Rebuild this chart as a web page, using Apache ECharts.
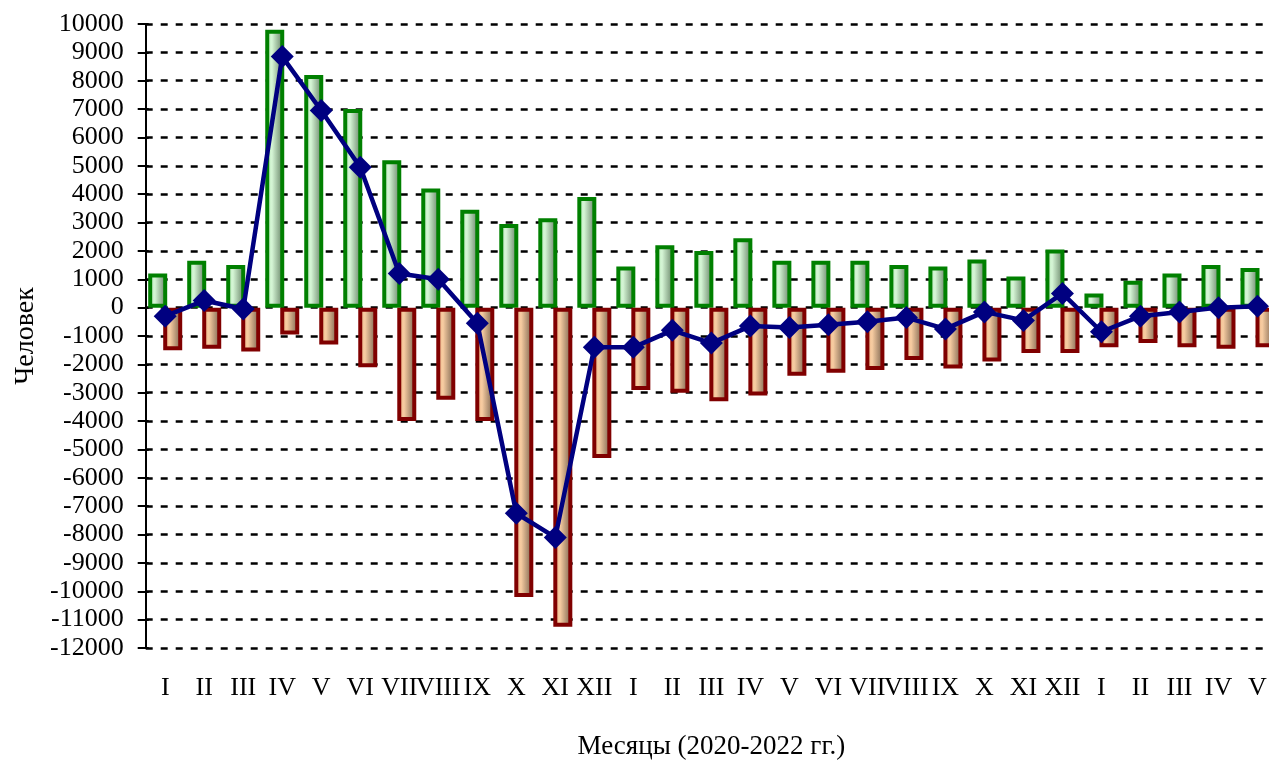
<!DOCTYPE html>
<html>
<head>
<meta charset="utf-8">
<script src="https://cdn.jsdelivr.net/npm/echarts@6/dist/echarts.min.js"></script>
<style>
html,body{margin:0;padding:0;background:#fff;}
#chart{width:1269px;height:760px;}
</style>
</head>
<body>
<div id="chart"></div>
<script>
const categories = ['I','II','III','IV','V','VI','VII','VIII','IX','X','XI','XII',
                    'I','II','III','IV','V','VI','VII','VIII','IX','X','XI','XII',
                    'I','II','III','IV','V'];
const arrived = [1200,1650,1500,9800,8200,7000,5200,4200,3450,2950,3150,3900,
                 1450,2200,2000,2450,1650,1650,1650,1500,1450,1700,1100,2050,
                 500,950,1200,1500,1400];
const departed = [-1500,-1450,-1550,-950,-1300,-2100,-4000,-3250,-4000,-10200,-11250,-5300,
                  -2900,-3000,-3300,-3100,-2400,-2300,-2200,-1850,-2150,-1900,-1600,-1600,
                  -1400,-1250,-1400,-1450,-1400];
const net = [-300,250,-50,8850,6950,4950,1200,1000,-550,-7250,-8100,-1400,
             -1400,-800,-1250,-650,-700,-600,-500,-350,-750,-150,-450,500,
             -850,-300,-150,0,50];
const yMin = -12000, yMax = 10000, yStep = 1000;

const FONT = '"Liberation Serif", "Times New Roman", serif';
const chart = echarts.init(document.getElementById('chart'), null, {renderer:'canvas'});

function grad(stops){
  return new echarts.graphic.LinearGradient(0,0,1,0, stops.map((c)=>({offset:c[0], color:c[1]})));
}

chart.setOption({
  animation:false,
  backgroundColor:'#ffffff',
  grid:{left:145.7, right:-8, top:24, bottom:112, containLabel:false, outerBoundsMode:'none'},
  xAxis:{
    type:'category',
    data:categories,
    position:'bottom',
    axisLine:{show:false},
    axisTick:{show:false},
    axisLabel:{interval:0, fontFamily:FONT, fontSize:26, color:'#000', margin:27},
    name:'Месяцы (2020-2022 гг.)',
    nameLocation:'middle',
    nameGap:85,
    nameTextStyle:{fontFamily:FONT, fontSize:27, color:'#000'},
    splitLine:{show:false}
  },
  yAxis:[{
    type:'value',
    min:yMin, max:yMax, interval:yStep,
    position:'left',
    axisLine:{show:true, onZero:false, lineStyle:{color:'#000', width:2}},
    axisTick:{show:true, length:8, lineStyle:{color:'#000', width:2}},
    axisLabel:{fontFamily:FONT, fontSize:26, color:'#000', margin:22, formatter:(v)=>String(v)},
    splitLine:{show:true, lineStyle:{color:'#000', width:2.5, type:[7,8]}},
    name:'Человек',
    nameLocation:'middle',
    nameGap:106,
    nameTextStyle:{fontFamily:FONT, fontSize:28, color:'#000'}
  },{
    type:'value',
    min:yMin, max:yMax, interval:yStep,
    position:'left',
    axisLine:{show:false},
    axisTick:{show:true, inside:true, length:3, lineStyle:{color:'#000', width:2}},
    axisLabel:{show:false},
    splitLine:{show:false}
  }],
  series:[{
    name:'Прибыло',
    type:'bar',
    data:arrived,
    barWidth:19,
    barGap:'-21%',
    itemStyle:{
      color:grad([[0,'#b4e4b4'],[0.35,'#d6f6d6'],[1,'#5a765a']]),
      borderColor:'#008000',
      borderWidth:4
    }
  },{
    name:'Выбыло',
    type:'bar',
    data:departed,
    barWidth:19,
    barGap:'-21%',
    itemStyle:{
      color:grad([[0,'#e6ac7e'],[0.35,'#f8cda2'],[1,'#6e5846']]),
      borderColor:'#800000',
      borderWidth:4
    }
  },{
    name:'Сальдо',
    type:'line',
    data:net,
    symbol:'diamond',
    symbolSize:23,
    z:5,
    lineStyle:{color:'#000080', width:4.5},
    itemStyle:{color:'#000080'}
  }]
});
</script>
</body>
</html>
